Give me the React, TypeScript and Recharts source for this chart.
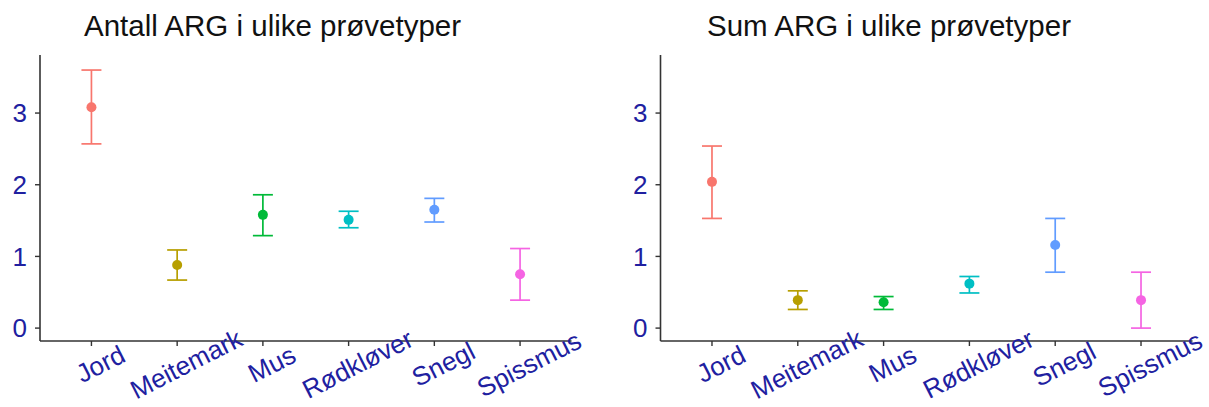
import { ScatterChart, Scatter, XAxis, YAxis, ErrorBar } from 'recharts';

const categories = ['Jord', 'Meitemark', 'Mus', 'Rødkløver', 'Snegl', 'Spissmus'];
const colors = ['#F8766D', '#B79F00', '#00BA38', '#00BFC4', '#619CFF', '#F564E3'];

const antallMean = [3.08, 0.88, 1.58, 1.51, 1.65, 0.75];
const antallLow = [2.57, 0.67, 1.29, 1.40, 1.48, 0.39];
const antallHigh = [3.60, 1.09, 1.86, 1.63, 1.81, 1.11];

const sumMean = [2.04, 0.39, 0.36, 0.62, 1.16, 0.39];
const sumLow = [1.53, 0.26, 0.26, 0.49, 0.78, 0.0];
const sumHigh = [2.54, 0.52, 0.44, 0.72, 1.53, 0.78];

const yTicks = [0, 1, 2, 3];
const xTicks = [1, 2, 3, 4, 5, 6];

const FONT = '"Liberation Sans", Arial, sans-serif';
const TICK_COLOR = '#2020a0';
const AXIS_COLOR = '#333333';

const buildRows = (mean: number[], low: number[], high: number[]) =>
  categories.map((name, i) => ({
    name,
    x: i + 1,
    y: mean[i],
    err: [mean[i] - low[i], high[i] - mean[i]],
  }));

const XTick = ({ x, y, payload }: any) => {
  const cx = x + 9;
  const cy = y + 16;
  return (
    <text
      x={cx}
      y={cy}
      dy="0.35em"
      textAnchor="middle"
      fill={TICK_COLOR}
      fontSize={26}
      fontFamily={FONT}
      transform={`rotate(-27 ${cx} ${cy})`}
    >
      {categories[payload.value - 1]}
    </text>
  );
};

interface PanelProps {
  rows: ReturnType<typeof buildRows>;
  width: number;
  yAxisWidth: number;
  right: number;
}

function Panel({ rows, width, yAxisWidth, right }: PanelProps) {
  return (
    <ScatterChart
      width={width}
      height={407}
      margin={{ top: 55, right, left: 0, bottom: 0 }}
      style={{ fontFamily: FONT }}
    >
      <XAxis
        type="number"
        dataKey="x"
        domain={[0.4, 6.6]}
        ticks={xTicks}
        allowDataOverflow
        height={66}
        tick={<XTick />}
        tickSize={5}
        axisLine={{ stroke: AXIS_COLOR, strokeWidth: 1.6 }}
        tickLine={{ stroke: AXIS_COLOR, strokeWidth: 1.4 }}
      />
      <YAxis
        type="number"
        dataKey="y"
        domain={[-0.18, 3.81]}
        ticks={yTicks}
        allowDataOverflow
        width={yAxisWidth}
        tickSize={5}
        tickMargin={8}
        tick={{ fill: TICK_COLOR, fontSize: 26, fontFamily: FONT }}
        axisLine={{ stroke: AXIS_COLOR, strokeWidth: 1.6 }}
        tickLine={{ stroke: AXIS_COLOR, strokeWidth: 1.4 }}
      />
      {rows.map((row, i) => (
        <Scatter
          key={row.name}
          data={[row]}
          fill={colors[i]}
          isAnimationActive={false}
          shape={(p: any) => <circle cx={p.cx} cy={p.cy} r={5} fill={colors[i]} />}
        >
          <ErrorBar
            dataKey="err"
            direction="y"
            width={10}
            stroke={colors[i]}
            strokeWidth={1.7}
            isAnimationActive={false}
          />
        </Scatter>
      ))}
    </ScatterChart>
  );
}

export default function App() {
  const antallRows = buildRows(antallMean, antallLow, antallHigh);
  const sumRows = buildRows(sumMean, sumLow, sumHigh);
  return (
    <div style={{ position: 'absolute', left: 0, top: 0, width: 1209, height: 407, background: '#fff' }}>
      <div style={{ position: 'absolute', left: 0, top: 0 }}>
        <Panel rows={antallRows} width={600} yAxisWidth={40} right={28.5} />
      </div>
      <div style={{ position: 'absolute', left: 600, top: 0 }}>
        <Panel rows={sumRows} width={609} yAxisWidth={60.5} right={16.5} />
      </div>
      <svg
        width={1209}
        height={50}
        style={{ position: 'absolute', left: 0, top: 0, pointerEvents: 'none' }}
      >
        <text x={84} y={36} fontSize={29.5} fontFamily={FONT} fill="#111">
          Antall ARG i ulike prøvetyper
        </text>
        <text x={707} y={36} fontSize={29.5} fontFamily={FONT} fill="#111">
          Sum ARG i ulike prøvetyper
        </text>
      </svg>
    </div>
  );
}
